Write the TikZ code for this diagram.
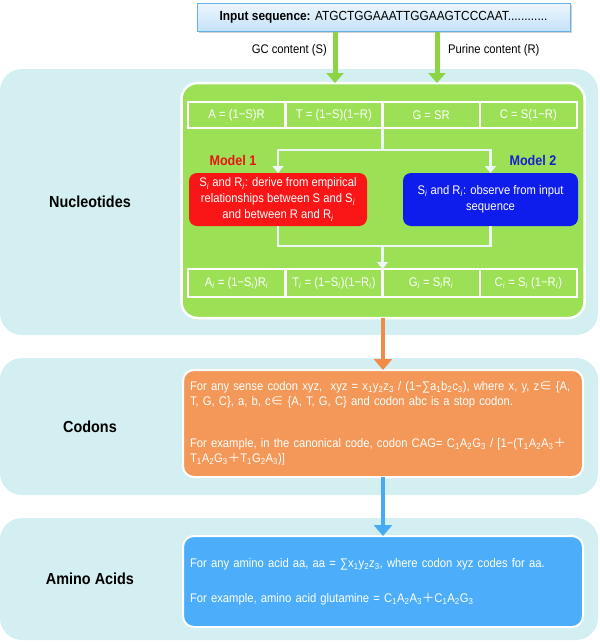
\documentclass[tikz,border=0pt]{standalone}
\usepackage{fontspec}
\setmainfont[FakeStretch=0.9]{Liberation Sans}
\newfontfamily\cjk{Noto Sans CJK SC}
\usetikzlibrary{arrows.meta,shadows}
\definecolor{panelc}{RGB}{211,239,241}
\definecolor{grn}{RGB}{156,224,86}
\definecolor{garr}{RGB}{140,212,70}
\definecolor{redb}{RGB}{250,22,22}
\definecolor{blueb}{RGB}{14,28,236}
\definecolor{redt}{RGB}{232,20,20}
\definecolor{bluet}{RGB}{22,32,205}
\definecolor{orab}{RGB}{243,152,88}
\definecolor{oarr}{RGB}{240,140,72}
\definecolor{lblue}{RGB}{76,174,250}
\definecolor{barr}{RGB}{72,170,245}
\definecolor{inpt}{RGB}{238,246,253}
\definecolor{inpb}{RGB}{196,226,249}
\definecolor{inpd}{RGB}{100,176,232}
\definecolor{wcon}{RGB}{236,246,246}
\newcommand\myfs{\fontsize{12.5}{16}\selectfont}
\newcommand\myfst{\fontsize{12.5}{15}\selectfont}
\newcommand\ssub[1]{\textsubscript{\textit{#1}}}
\newcommand\nsub[1]{\textsubscript{#1}}
\newcommand\cplus{{\cjk ＋}}
\newcommand\cin{{\cjk ∈}}
\newcommand\csum{∑}
\begin{document}
\begin{tikzpicture}[x=1pt,y=-1pt,
  panel/.style={fill=panelc, rounded corners=22pt, inner sep=0pt, outer sep=0pt},
  plabel/.style={font=\fontsize{16}{18}\selectfont\bfseries, text=black},
  greenbox/.style={fill=grn, draw=white, line width=2.5pt, rounded corners=16pt, inner sep=0pt, outer sep=0pt},
  cell/.style={draw=white, line width=2.5pt, text=white, minimum width=97.25pt, inner sep=0pt, outer sep=0pt, font=\myfs},
  modelbox/.style={rounded corners=8pt, text=white, align=center, font=\myfs, inner sep=0pt, outer sep=0pt, minimum height=53pt},
  modeltitle/.style={font=\fontsize{14}{16}\selectfont\bfseries},
  bigbox/.style={draw=white, line width=2pt, rounded corners=11pt, text=white, align=left, font=\myfst, minimum width=400pt, inner xsep=7pt, inner ysep=0pt, text width=386pt, outer sep=0pt},
  wline/.style={draw=wcon, line width=2.5pt},
  wtip/.style={-{Triangle[width=11pt,length=7pt]}},
  garrow/.style={draw=garr, line width=5pt, -{Triangle[width=17pt,length=10pt]}},
  oarrow/.style={draw=oarr, line width=3.5pt, -{Triangle[width=18pt,length=11pt]}},
  barrow/.style={draw=barr, line width=3.5pt, -{Triangle[width=18pt,length=11pt]}},
  arlabel/.style={font=\myfs, text=black, inner sep=0pt}
]
\useasboundingbox (0,0) rectangle (600,643);

% panels
\node[panel, minimum width=598pt, minimum height=266pt] (pnuc) at (299,202) {};
\node[panel, minimum width=598pt, minimum height=137pt] (pcod) at (299,426.5) {};
\node[panel, minimum width=598pt, minimum height=122pt] (pami) at (299,579) {};
\node[plabel] (lnuc) at (90,202) {Nucleotides};
\node[plabel] (lcod) at (90,426.5) {Codons};
\node[plabel] (lami) at (90,579) {Amino Acids};

% input
\node[draw=inpd, line width=1pt, top color=inpt, bottom color=inpb, minimum width=373pt, minimum height=28pt, inner sep=0pt, font=\fontsize{13.2}{15}\selectfont, drop shadow={shadow xshift=1.5pt, shadow yshift=-1.5pt, fill=black!35, opacity=0.5}] (input) at (383.5,17) {\textbf{Input sequence:} ATGCTGGAAATTGGAAGTCCCAAT............};

% green box
\node[greenbox, minimum width=403pt, minimum height=235pt] (green) at (383,200.5) {};

% top cells
\node[cell, minimum height=26pt] (t1) at (236.625,115) {A = (1−S)R};
\node[cell, minimum height=26pt] (t2) at (333.875,115) {T = (1−S)(1−R)};
\node[cell, minimum height=26pt] (t3) at (431.125,115) {G = SR};
\node[cell, minimum height=26pt] (t4) at (528.375,115) {C = S(1−R)};

% model boxes
\node[modeltitle, text=redt] (m1) at (233,160) {Model 1};
\node[modeltitle, text=bluet] (m2) at (533,160) {Model 2};
\node[modelbox, fill=redb, minimum width=178pt] (red) at (278,199.5) {S\ssub{i} and R\ssub{i}: derive from empirical\\relationships between S and S\ssub{i}\\and between R and R\ssub{i}};
\node[modelbox, fill=blueb, minimum width=175pt] (blue) at (490.5,199.5) {S\ssub{i} and R\ssub{i}: observe from input\\sequence};

% bottom cells
\node[cell, minimum height=28pt] (b1) at (236.625,283) {A\ssub{i} = (1−S\ssub{i})R\ssub{i}};
\node[cell, minimum height=28pt] (b2) at (333.875,283) {T\ssub{i} = (1−S\ssub{i})(1−R\ssub{i})};
\node[cell, minimum height=28pt] (b3) at (431.125,283) {G\ssub{i} = S\ssub{i}R\ssub{i}};
\node[cell, minimum height=28pt] (b4) at (528.375,283) {C\ssub{i} = S\ssub{i} (1−R\ssub{i})};

% internal connectors
\coordinate (split) at (382.5,150);
\coordinate (join) at (382.5,246);
\draw[wline] (t2.south east) -- (split);
\draw[wline, wtip] (split) -| (red.north);
\draw[wline, wtip] (split) -| (blue.north);
\draw[wline] (red.south) |- (join) -| (blue.south);
\draw[wline, wtip] (join) -- (b2.north east);

% orange box
\node[bigbox, fill=orab, minimum height=107pt] (orange) at (383,423.5) {\mbox{For any sense codon xyz, \ xyz = x\nsub{1}y\nsub{2}z\nsub{3} / (1−\csum a\nsub{1}b\nsub{2}c\nsub{3}), where x, y, z\cin\ \{A,}\\\mbox{T, G, C\}, a, b, c\cin\ \{A, T, G, C\} and codon abc is a stop codon.}\\[27pt]\mbox{For example, in the canonical code, codon CAG= C\nsub{1}A\nsub{2}G\nsub{3} / [1−(T\nsub{1}A\nsub{2}A\nsub{3}\cplus}\\\mbox{T\nsub{1}A\nsub{2}G\nsub{3}\cplus T\nsub{1}G\nsub{2}A\nsub{3})]}};

% blue box
\node[bigbox, fill=lblue, minimum height=91pt] (lbox) at (383,581.5) {\mbox{For any amino acid aa, aa = \csum x\nsub{1}y\nsub{2}z\nsub{3}, where codon xyz codes for aa.}\\[20pt]\mbox{For example, amino acid glutamine = C\nsub{1}A\nsub{2}A\nsub{3}\cplus C\nsub{1}A\nsub{2}G\nsub{3}}};

% arrows
\coordinate (gcx) at (335,0);
\coordinate (prx) at (437,0);
\draw[garrow] (input.south -| gcx) -- (green.north -| gcx);
\draw[garrow] (input.south -| prx) -- (green.north -| prx);
\node[arlabel, anchor=east] (gclab) at (327,50) {GC content (S)};
\node[arlabel, anchor=west] (prlab) at (448,50) {Purine content (R)};
\draw[oarrow] (green.south) -- (orange.north);
\draw[barrow] (orange.south) -- (lbox.north);
\end{tikzpicture}
\end{document}
